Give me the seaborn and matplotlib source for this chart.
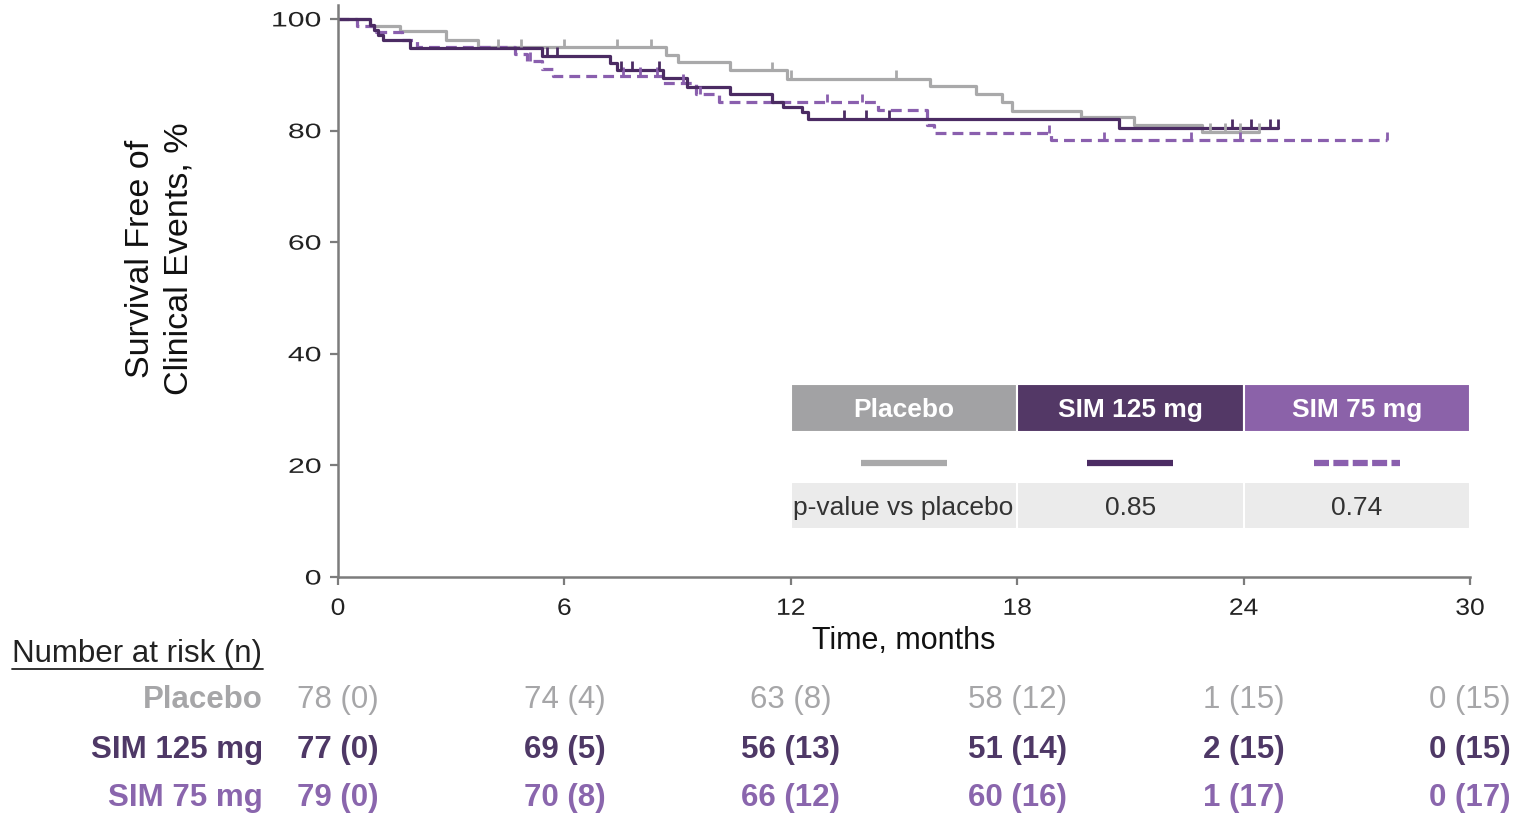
import numpy as np
import pandas as pd
import matplotlib
matplotlib.use("Agg")
import matplotlib.pyplot as plt
import seaborn as sns
from matplotlib.patches import Rectangle
from matplotlib.lines import Line2D
from matplotlib.path import Path
from matplotlib.patheffects import AbstractPathEffect
from matplotlib.transforms import Affine2D, blended_transform_factory

# ---- Kaplan-Meier step data (time in months, event-free survival in %) ----
groups = ["Placebo", "SIM 125 mg", "SIM 75 mg"]

placebo_t = [0, 0.85, 1.65, 2.85, 3.7, 8.7, 9.0, 10.4, 11.9, 15.7, 16.9, 17.6,
             17.85, 19.7, 21.1, 22.9, 24.4]
placebo_s = [100, 98.7, 97.8, 96.3, 94.9, 93.6, 92.3, 90.8, 89.3, 87.9, 86.5, 85.2,
             83.5, 82.5, 81.0, 79.8, 79.8]

sim125_t = [0, 0.85, 0.95, 1.05, 1.2, 1.9, 5.4, 7.2, 7.4, 8.6, 9.25, 10.4, 11.5,
            11.8, 12.3, 12.45, 20.7, 24.9]
sim125_s = [100, 99.0, 98.0, 97.2, 96.2, 94.8, 93.4, 92.1, 90.9, 89.4, 87.8, 86.5, 85.2,
            84.3, 83.4, 82.1, 80.5, 80.5]

sim75_t = [0, 0.5, 1.0, 1.7, 2.1, 4.7, 5.0, 5.4, 5.7, 8.6, 9.5, 10.1, 14.3, 15.6,
           15.8, 18.9, 27.8]
sim75_s = [100, 98.7, 97.6, 96.3, 95.0, 93.8, 92.5, 91.1, 89.8, 88.6, 86.5, 85.1, 83.7, 81.0,
           79.5, 78.3, 78.3]

# censoring times
placebo_cens = [4.25, 4.85, 6.0, 7.4, 8.3, 11.5, 12.0, 14.8, 23.1, 23.5, 23.9, 24.4]
sim125_cens = [5.55, 5.8, 7.5, 7.8, 8.5, 13.4, 14.0, 14.6, 23.7, 24.2, 24.7, 24.9]
sim75_cens = [5.1, 7.55, 8.0, 8.45, 9.15, 9.6, 12.95, 13.9, 18.85, 20.3, 22.6, 23.9, 27.8]

# number at risk (cumulative events) at each landmark
risk_times = [0, 6, 12, 18, 24, 30]
placebo_n = [78, 74, 63, 58, 1, 0]
placebo_ev = [0, 4, 8, 12, 15, 15]
sim125_n = [77, 69, 56, 51, 2, 0]
sim125_ev = [0, 5, 13, 14, 15, 15]
sim75_n = [79, 70, 66, 60, 1, 0]
sim75_ev = [0, 8, 12, 16, 17, 17]

p_values = ["", "0.85", "0.74"]
x_ticks = [0, 6, 12, 18, 24, 30]
y_ticks = [0, 20, 40, 60, 80, 100]

# ---- styling ----
line_colors = ["#a9a9aa", "#4b2b63", "#8a5fae"]
header_colors = ["#a2a2a4", "#533866", "#8b62a9"]
text_colors = ["#a6a6a8", "#4e3866", "#8a66ad"]
axis_color = "#7c7c7c"

sns.set_theme(style="white")
plt.rcParams["font.family"] = ["Liberation Sans", "DejaVu Sans"]


class WideText(AbstractPathEffect):
    """Widen glyph runs along the baseline (letter-spaced tick numerals)."""

    def __init__(self, sx=1.4, anchor="right"):
        super().__init__()
        self.sx = sx
        self.anchor = anchor

    def draw_path(self, renderer, gc, tpath, affine, rgbFace=None):
        ext = tpath.get_extents()
        x0 = {"left": ext.x0, "center": 0.5 * (ext.x0 + ext.x1), "right": ext.x1}[self.anchor]
        local = Affine2D().translate(-x0, 0).scale(self.sx, 1).translate(x0, 0)
        renderer.draw_path(gc, tpath, local + affine, rgbFace)


def level_at(times, surv, t):
    idx = np.searchsorted(np.asarray(times), np.asarray(t), side="right") - 1
    return np.asarray(surv)[idx]


W, H = 1516, 816
fig = plt.figure(figsize=(W / 100, H / 100), dpi=100)
ax_left, ax_right, ax_bottom, ax_top = 338, 1470, 577, 5
ax = fig.add_axes([ax_left / W, 1 - ax_bottom / H, (ax_right - ax_left) / W, (ax_bottom - ax_top) / H])

curves = [
    (placebo_t, placebo_s, placebo_cens, "-"),
    (sim75_t, sim75_s, sim75_cens, (0, (3.4, 1.9))),
    (sim125_t, sim125_s, sim125_cens, "-"),
]
curve_colors = [line_colors[0], line_colors[2], line_colors[1]]

tick_marker = Path([(0, 0), (0, 1)])
for (t, s, cens, ls), col in zip(curves, curve_colors):
    df = pd.DataFrame({"time": t, "surv": s})
    sns.lineplot(data=df, x="time", y="surv", ax=ax, color=col, lw=2.3,
                 drawstyle="steps-post", linestyle=ls, estimator=None,
                 sort=False, legend=False)
    cdf = pd.DataFrame({"time": cens, "surv": level_at(t, s, cens)})
    sns.scatterplot(data=cdf, x="time", y="surv", ax=ax, marker=tick_marker,
                    s=150, facecolor="none", edgecolor=col, linewidth=2.0,
                    legend=False, zorder=3)

ax.set_xlim(0, 30)
ax.set_ylim(0, 102.5)
ax.set_xticks(x_ticks)
ax.set_yticks(y_ticks)
ax.set_xticklabels([str(v) for v in x_ticks], fontsize=17, color="#222222")
ax.set_yticklabels([str(v) for v in y_ticks], fontsize=15, color="#222222")
for side in ["top", "right"]:
    ax.spines[side].set_visible(False)
for side in ["left", "bottom"]:
    ax.spines[side].set_color(axis_color)
    ax.spines[side].set_linewidth(1.8)
ax.tick_params(axis="both", direction="out", length=6, width=1.6, color=axis_color,
               bottom=True, left=True)
ax.tick_params(axis="x", pad=9)
ax.tick_params(axis="y", pad=6)
for lab in ax.get_yticklabels():
    lab.set_path_effects([WideText(1.45, "right")])
for lab in ax.get_xticklabels():
    lab.set_path_effects([WideText(1.12, "center")])

ax.set_xlabel("Time, months", fontsize=22, color="#111111", va="center")
ax.xaxis.set_label_coords(0.5, -(641 - ax_bottom) / (ax_bottom - ax_top))
ax.set_ylabel("Survival Free of\nClinical Events, %", fontsize=24.5, color="#111111",
              va="center", linespacing=1.32)
ax.yaxis.set_label_coords((160 - ax_left) / (ax_right - ax_left),
                          (ax_bottom - 259) / (ax_bottom - ax_top))

# ---- legend / p-value table inside the plot area ----
col_edges = [12, 18, 24, 30]
header_y0, header_y1 = 26.0, 34.5
row_y0, row_y1 = 8.6, 17.1
sample_y = 20.5
sample_dash = ["-", "-", (0, (2.4, 0.7))]
for i, g in enumerate(groups):
    x0, x1 = col_edges[i], col_edges[i + 1]
    ax.add_patch(Rectangle((x0, header_y0), x1 - x0, header_y1 - header_y0,
                           facecolor=header_colors[i], edgecolor="white", lw=1.5, zorder=4))
    ax.text((x0 + x1) / 2, (header_y0 + header_y1) / 2 - 0.4, g, color="white",
            fontsize=19, fontweight="bold", ha="center", va="center", zorder=5)
    ax.add_patch(Rectangle((x0, row_y0), x1 - x0, row_y1 - row_y0,
                           facecolor="#ebebeb", edgecolor="white", lw=1.5, zorder=4))
    xc = (x0 + x1) / 2
    ax.add_line(Line2D([xc - 1.14, xc + 1.14], [sample_y, sample_y], color=line_colors[i],
                       lw=4.5, linestyle=sample_dash[i], solid_capstyle="butt",
                       dash_capstyle="butt", zorder=5))
    if p_values[i]:
        ax.text(xc, (row_y0 + row_y1) / 2 - 0.4, p_values[i], color="#333333", fontsize=19,
                ha="center", va="center", zorder=5)
ax.text(col_edges[0] + 0.05, (row_y0 + row_y1) / 2 - 0.4, "p-value vs placebo", color="#333333",
        fontsize=19, ha="left", va="center", zorder=5)

# ---- number at risk table ----
fig.text(12 / W, 1 - 654 / H, "Number at risk (n)", fontsize=22.5, color="#222222",
         ha="left", va="center")
fig.add_artist(Line2D([12 / W, 263 / W], [1 - 669 / H, 1 - 669 / H], color="#222222",
                      lw=1.3, transform=fig.transFigure))

risk_rows = [(placebo_n, placebo_ev), (sim125_n, sim125_ev), (sim75_n, sim75_ev)]
row_ys = [700, 750, 798]
weights = ["normal", "bold", "bold"]
xfig = blended_transform_factory(ax.transData, fig.transFigure)
for i, g in enumerate(groups):
    yf = 1 - row_ys[i] / H
    fig.text(263 / W, yf, g, fontsize=22.5, fontweight="bold", color=text_colors[i],
             ha="right", va="center")
    n_vals, ev_vals = risk_rows[i]
    for tm, n, e in zip(risk_times, n_vals, ev_vals):
        fig.text(tm, yf, f"{n} ({e})", transform=xfig, fontsize=22.5,
                 fontweight=weights[i], color=text_colors[i], ha="center", va="center")

fig.savefig("out.png", dpi=100, facecolor="white")
